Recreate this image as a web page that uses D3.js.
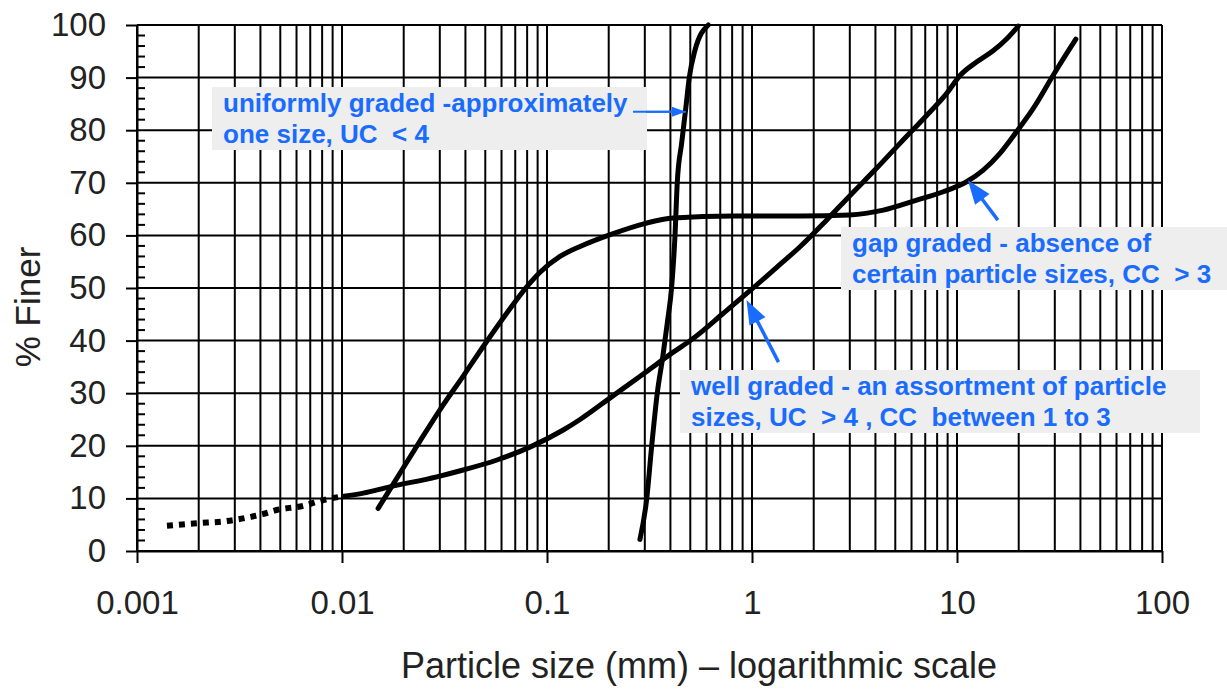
<!DOCTYPE html>
<html>
<head>
<meta charset="utf-8">
<script src="https://cdn.jsdelivr.net/npm/d3@7"></script>
<style>
  body { margin: 0; background: #fff; }
  text { font-family: Arial, "Liberation Sans", sans-serif; }
</style>
</head>
<body>
<div id="chart"></div>
<script>
/* values */
const sizeTicks = [0.001, 0.01, 0.1, 1, 10, 100];
const sizeTickLabels = ['0.001', '0.01', '0.1', '1', '10', '100'];
const finerTicks = [0, 10, 20, 30, 40, 50, 60, 70, 80, 90, 100];

/* well graded - fines part (dotted) */
const wellFinesSize = [0.0014, 0.002, 0.0026, 0.0031, 0.0036, 0.0041, 0.0048, 0.0065, 0.0076, 0.0088, 0.0102];
const wellFinesPct  = [4.8, 5.3, 5.6, 6.0, 6.5, 7.0, 7.8, 8.6, 9.4, 10.0, 10.4];

/* well graded */
const wellSize = [0.0102, 0.0127, 0.0171, 0.029, 0.039, 0.057, 0.083, 0.12, 0.145, 0.208, 0.303, 0.413,
  0.508, 0.725, 1.02, 1.37, 1.71, 2.31, 3.01, 4.06, 5.27, 7.11, 8.91, 10.35, 12.5, 15.0, 17.5, 19.9];
const wellPct = [10.4, 11, 12.2, 14.1, 15.4, 17.3, 19.8, 23, 25.0, 29.4, 34.0, 37.8,
  40.2, 45.2, 50.1, 54.5, 57.8, 62.9, 67.6, 72.8, 77.5, 82.8, 87.0, 90.4, 93.0, 95.1, 97.4, 99.8];

/* uniformly graded */
const uniformSize = [0.284, 0.306, 0.324, 0.345, 0.367, 0.386, 0.406, 0.421, 0.432, 0.454, 0.476, 0.494, 0.527, 0.612];
const uniformPct  = [2.2, 9.7, 19.9, 30, 36.9, 43.3, 50.4, 59.9, 70.1, 77.6, 84.4, 89.9, 95.2, 100];

/* gap graded */
const gapSize = [0.015, 0.0185, 0.024, 0.0301, 0.0391, 0.0499, 0.0636, 0.078, 0.0925, 0.1157, 0.145, 0.2085,
  0.303, 0.413, 0.81, 1.71, 3.0, 4.37, 6.36, 8.57, 11.14, 13.43, 16.2, 19.5, 23.6, 29.5, 34.3, 38.0];
const gapPct = [8.1, 13.8, 20.9, 26.9, 33.3, 39.4, 45.2, 49.8, 53.0, 56, 57.9, 60.3,
  62.3, 63.3, 63.7, 63.7, 63.9, 64.8, 66.7, 68.3, 70.2, 72.4, 75.6, 79.7, 84.2, 90.5, 94.6, 97.3];

/* notes and the point (size, % finer) each arrow points at */
const noteUniform = ['uniformly graded -approximately', 'one size, UC  < 4'];
const noteGap = ['gap graded - absence of', 'certain particle sizes, CC  > 3'];
const noteWell = ['well graded - an assortment of particle', 'sizes, UC  > 4 , CC  between 1 to 3'];
const targetUniform = [0.476, 83.5];
const targetGap = [11.3, 70.5];
const targetWell = [0.94, 47.7];

const W = 1227, H = 692;
const m = { top: 25, right: 65, bottom: 141, left: 137 };
const blue = '#1a6cff';

const svg = d3.select('#chart').append('svg')
  .attr('width', W)
  .attr('height', H);

const x = d3.scaleLog().domain([0.001, 100]).range([m.left, W - m.right]);
const y = d3.scaleLinear().domain([0, 100]).range([H - m.bottom, m.top]);

/* grid */
const grid = svg.append('g').attr('stroke', '#000').attr('stroke-width', 2);
const xGrid = [];
sizeTicks.slice(0, -1).forEach(d => { for (let k = 1; k < 10; k++) xGrid.push(d * k); });
xGrid.push(100);
grid.selectAll('.vg').data(xGrid).join('line')
  .attr('x1', d => x(d)).attr('x2', d => x(d))
  .attr('y1', y(0)).attr('y2', y(100));
grid.selectAll('.hg').data(finerTicks).join('line')
  .attr('x1', x(0.001)).attr('x2', x(100))
  .attr('y1', d => y(d)).attr('y2', d => y(d));

/* minor ticks on the % axis */
const minor = d3.range(0, 101, 2).filter(d => d % 10 !== 0);
grid.selectAll('.mt').data(minor).join('line')
  .attr('x1', x(0.001)).attr('x2', x(0.001) + 8)
  .attr('y1', d => y(d)).attr('y2', d => y(d));

/* axes */
const xAxis = svg.append('g')
  .attr('transform', `translate(0,${y(0)})`)
  .call(d3.axisBottom(x).tickValues(sizeTicks).tickFormat((d, i) => sizeTickLabels[i])
    .tickSize(12).tickSizeOuter(0).tickPadding(28));
const yAxis = svg.append('g')
  .attr('transform', `translate(${x(0.001)},0)`)
  .call(d3.axisLeft(y).tickValues(finerTicks).tickSize(11).tickSizeOuter(0).tickPadding(20));

[xAxis, yAxis].forEach(a => {
  a.attr('font-family', null).attr('font-size', null);
  a.select('.domain').attr('stroke', '#000').attr('stroke-width', 2);
  a.selectAll('.tick line').attr('stroke', '#000').attr('stroke-width', 2);
  a.selectAll('.tick text').attr('fill', '#222').style('font-size', '33px');
});

/* axis titles */
svg.append('text')
  .attr('x', 699).attr('y', 678)
  .attr('text-anchor', 'middle')
  .attr('fill', '#222')
  .style('font-size', '36px')
  .text('Particle size (mm) – logarithmic scale');

svg.append('text')
  .attr('transform', 'translate(40,307) rotate(-90)')
  .attr('text-anchor', 'middle')
  .attr('fill', '#222')
  .style('font-size', '35px')
  .text('% Finer');

/* curves */
const line = d3.line()
  .x(d => x(d[0]))
  .y(d => y(d[1]))
  .curve(d3.curveMonotoneX);
const zip = (a, b) => a.map((d, i) => [d, b[i]]);

const curves = svg.append('g').attr('fill', 'none').attr('stroke', '#000');
curves.append('path')
  .attr('d', line(zip(wellFinesSize, wellFinesPct)))
  .attr('stroke-width', 6)
  .attr('stroke-dasharray', '6,6');
[[wellSize, wellPct], [uniformSize, uniformPct], [gapSize, gapPct]].forEach(([s, p]) => {
  curves.append('path')
    .attr('d', line(zip(s, p)))
    .attr('stroke-width', 5)
    .attr('stroke-linejoin', 'round')
    .attr('stroke-linecap', 'round');
});

/* notes */
function note(lines, bx, by, bw, bh, fs) {
  const g = svg.append('g');
  g.append('rect')
    .attr('x', bx).attr('y', by)
    .attr('width', bw).attr('height', bh)
    .attr('fill', '#eeeeee');
  g.selectAll('text').data(lines).join('text')
    .attr('x', bx + 11)
    .attr('y', (d, i) => by + 25 + i * 31)
    .attr('fill', blue)
    .style('font-size', fs + 'px')
    .style('font-weight', 'bold')
    .style('white-space', 'pre')
    .text(d => d);
}

function arrow(tip, dx, dy, headLen, headHalf, width) {
  const [tx, ty] = [x(tip[0]), y(tip[1])];
  const len = Math.hypot(dx, dy);
  const ux = -dx / len, uy = -dy / len;   // tail -> tip direction
  const bx = tx - ux * headLen, by = ty - uy * headLen;
  svg.append('line')
    .attr('x1', tx + dx).attr('y1', ty + dy)
    .attr('x2', bx + ux * 2).attr('y2', by + uy * 2)
    .attr('stroke', blue).attr('stroke-width', width);
  svg.append('path')
    .attr('d', `M${tx},${ty}L${bx - uy * headHalf},${by + ux * headHalf}L${bx + uy * headHalf},${by - ux * headHalf}Z`)
    .attr('fill', blue);
}

note(noteUniform, 212, 87, 435, 63, 26);
note(noteGap, 841, 227, 386, 63, 26);
note(noteWell, 680, 370, 520, 63, 26);

/* uniform: short horizontal pointer with small head */
svg.append('line')
  .attr('x1', 633).attr('y1', y(targetUniform[1]))
  .attr('x2', x(targetUniform[0])).attr('y2', y(targetUniform[1]))
  .attr('stroke', blue).attr('stroke-width', 2);
arrow([targetUniform[0], targetUniform[1]], -40, 0, 14, 5, 2);
arrow(targetGap, 30, 40, 24, 9, 3.5);
arrow(targetWell, 32, 62, 24, 9, 3.5);
</script>
</body>
</html>
